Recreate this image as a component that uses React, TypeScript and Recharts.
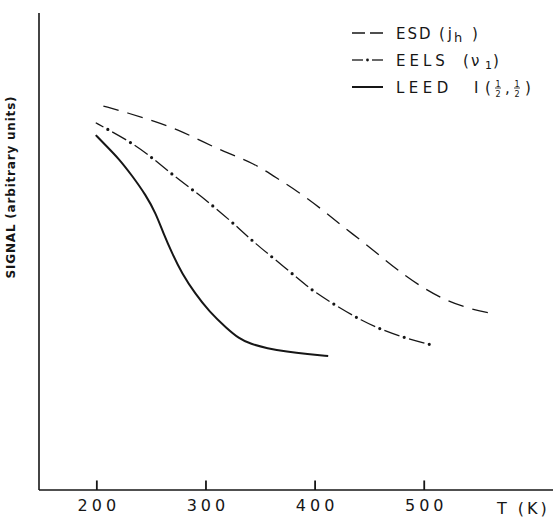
import { LineChart, Line, XAxis, YAxis } from "recharts";

// values (signal in arbitrary units, 0..100 along the axis)
const esdTemps = [206, 229, 252, 275, 297, 320, 343, 365, 386, 407, 425, 444, 462, 478, 496, 517, 542, 565];
const esdSignal = [80.5, 79.0, 77.4, 75.5, 73.0, 70.6, 68.6, 65.4, 62.3, 58.7, 55.3, 52.0, 48.6, 45.7, 42.8, 40.0, 37.9, 36.9];

const eelsTemps = [199, 210, 229, 248, 267, 288, 308, 332, 345, 362, 386, 400, 421, 442, 463, 485, 507];
const eelsSignal = [77.0, 75.6, 73.2, 70.2, 66.5, 62.9, 59.3, 54.5, 51.7, 48.6, 44.0, 41.4, 38.4, 35.6, 33.4, 31.7, 30.4];

const leedTemps = [199, 208, 220, 232, 245, 254, 261, 269, 278, 290, 303, 319, 330, 341, 356, 374, 393, 412];
const leedSignal = [74.4, 72.3, 69.5, 66.0, 61.8, 58.0, 53.8, 49.6, 45.4, 41.2, 37.4, 33.9, 31.8, 30.6, 29.7, 29.0, 28.5, 28.1];

const xTicks = [200, 300, 400, 500];
const tickMarkHeight = 2; // in signal units, inward from the axis

const ink = "#161616";
const font = "'DejaVu Sans', sans-serif";

const toRows = (temps: number[], values: number[]) =>
    temps.map((t, i) => ({ t, signal: values[i] }));

const esdData = toRows(esdTemps, esdSignal);
const eelsData = toRows(eelsTemps, eelsSignal);
const leedData = toRows(leedTemps, leedSignal);

function TempTick(props: any) {
    const { x, y, payload } = props;
    return (
        <text
            x={x + 2}
            y={y + 21}
            textAnchor="middle"
            fontFamily={font}
            fontSize={16}
            fill={ink}
            stroke="none"
            style={{ letterSpacing: 4 }}
        >
            {payload.value}
        </text>
    );
}

function Fraction({ cx, base }: { cx: number; base: number }) {
    return (
        <g>
            <text x={cx} y={base - 6} textAnchor="middle" fontSize={8} fontFamily={font} fill={ink}>1</text>
            <line x1={cx - 3} x2={cx + 3} y1={base - 4.5} y2={base - 4.5} stroke={ink} strokeWidth={0.8} />
            <text x={cx} y={base + 4} textAnchor="middle" fontSize={8} fontFamily={font} fill={ink}>2</text>
        </g>
    );
}

function LegendBox() {
    const txt = { fontFamily: font, fontSize: 15, fill: ink };
    return (
        <svg
            width={553}
            height={120}
            style={{ position: "absolute", left: 0, top: 0, pointerEvents: "none" }}
        >
            {/* ESD */}
            <line x1={352} x2={383} y1={33} y2={33} stroke={ink} strokeWidth={1.3} strokeDasharray="13 5" />
            <text x={396} y={38.5} {...txt} style={{ letterSpacing: 2 }}>ESD</text>
            <text x={439} y={38.5} {...txt} style={{ letterSpacing: 3 }}>(j</text>
            <text x={454} y={42} {...txt} fontSize={13}>h</text>
            <text x={472} y={38.5} {...txt}>)</text>

            {/* EELS */}
            <line x1={352} x2={363} y1={60} y2={60} stroke={ink} strokeWidth={1.3} />
            <circle cx={367.5} cy={60} r={1.4} fill={ink} />
            <line x1={372} x2={383} y1={60} y2={60} stroke={ink} strokeWidth={1.3} />
            <text x={396} y={65.5} {...txt} style={{ letterSpacing: 4 }}>EELS</text>
            <text x={463} y={65.5} {...txt}>(</text>
            <text x={471} y={65.5} {...txt}>ν</text>
            <text x={485} y={69} {...txt} fontSize={11}>1</text>
            <text x={493} y={65.5} {...txt}>)</text>

            {/* LEED */}
            <line x1={352} x2={383} y1={87} y2={87} stroke={ink} strokeWidth={2} />
            <text x={396} y={92.5} {...txt} style={{ letterSpacing: 4.5 }}>LEED</text>
            <text x={474} y={92.5} {...txt}>I</text>
            <text x={485} y={92.5} {...txt}>(</text>
            <Fraction cx={498} base={92.5} />
            <text x={505} y={92.5} {...txt}>,</text>
            <Fraction cx={517} base={92.5} />
            <text x={525} y={92.5} {...txt}>)</text>
        </svg>
    );
}

export default function App() {
    return (
        <div style={{ position: "absolute", left: 0, top: 0, width: 553, height: 517, background: "#fff" }}>
            <LineChart
                width={553}
                height={517}
                margin={{ top: 13, right: 0, bottom: 0, left: 0 }}
            >
                <XAxis
                    dataKey="t"
                    type="number"
                    domain={[147, 618]}
                    ticks={xTicks}
                    allowDataOverflow
                    height={27}
                    tickSize={0}
                    tickMargin={0}
                    tickLine={false}
                    tick={(p: any) => <TempTick {...p} />}
                    axisLine={{ stroke: ink, strokeWidth: 1.6 }}
                    label={{
                        content: () => (
                            <text
                                x={497}
                                y={514}
                                fontFamily={font}
                                fontSize={16}
                                fill={ink}
                                style={{ letterSpacing: 3 }}
                            >
                                T (K)
                            </text>
                        ),
                    }}
                />
                <YAxis
                    type="number"
                    domain={[0, 100]}
                    width={39}
                    tick={false}
                    tickLine={false}
                    axisLine={{ stroke: ink, strokeWidth: 1.6 }}
                    label={{
                        content: () => (
                            <text
                                x={15}
                                y={187}
                                transform="rotate(-90 15 187)"
                                textAnchor="middle"
                                fontFamily={font}
                                fontSize={12}
                                fontWeight="bold"
                                fill={ink}
                                style={{ letterSpacing: 0.8 }}
                            >
                                SIGNAL  (arbitrary units)
                            </text>
                        ),
                    }}
                />
                {/* inward tick marks on the temperature axis */}
                {xTicks.map((t) => (
                    <Line
                        key={`tick-${t}`}
                        data={[
                            { t, signal: 0 },
                            { t, signal: tickMarkHeight },
                        ]}
                        dataKey="signal"
                        type="linear"
                        stroke={ink}
                        strokeWidth={1.8}
                        dot={false}
                        activeDot={false}
                        legendType="none"
                        isAnimationActive={false}
                    />
                ))}
                <Line
                    data={esdData}
                    dataKey="signal"
                    name="ESD"
                    type="basis"
                    stroke={ink}
                    strokeWidth={1.3}
                    strokeDasharray="16 9"
                    dot={false}
                    activeDot={false}
                    isAnimationActive={false}
                />
                <Line
                    data={eelsData}
                    dataKey="signal"
                    name="EELS"
                    type="basis"
                    stroke={ink}
                    strokeWidth={1.3}
                    strokeDasharray="16 10"
                    strokeDashoffset={7}
                    dot={false}
                    activeDot={false}
                    isAnimationActive={false}
                />
                <Line
                    data={eelsData}
                    dataKey="signal"
                    name="EELS dots"
                    type="basis"
                    stroke={ink}
                    strokeWidth={3.2}
                    strokeLinecap="round"
                    strokeDasharray="0 26"
                    strokeDashoffset={-14}
                    dot={false}
                    activeDot={false}
                    isAnimationActive={false}
                />
                <Line
                    data={leedData}
                    dataKey="signal"
                    name="LEED"
                    type="basis"
                    stroke={ink}
                    strokeWidth={2}
                    dot={false}
                    activeDot={false}
                    isAnimationActive={false}
                />
            </LineChart>
            <LegendBox />
        </div>
    );
}
